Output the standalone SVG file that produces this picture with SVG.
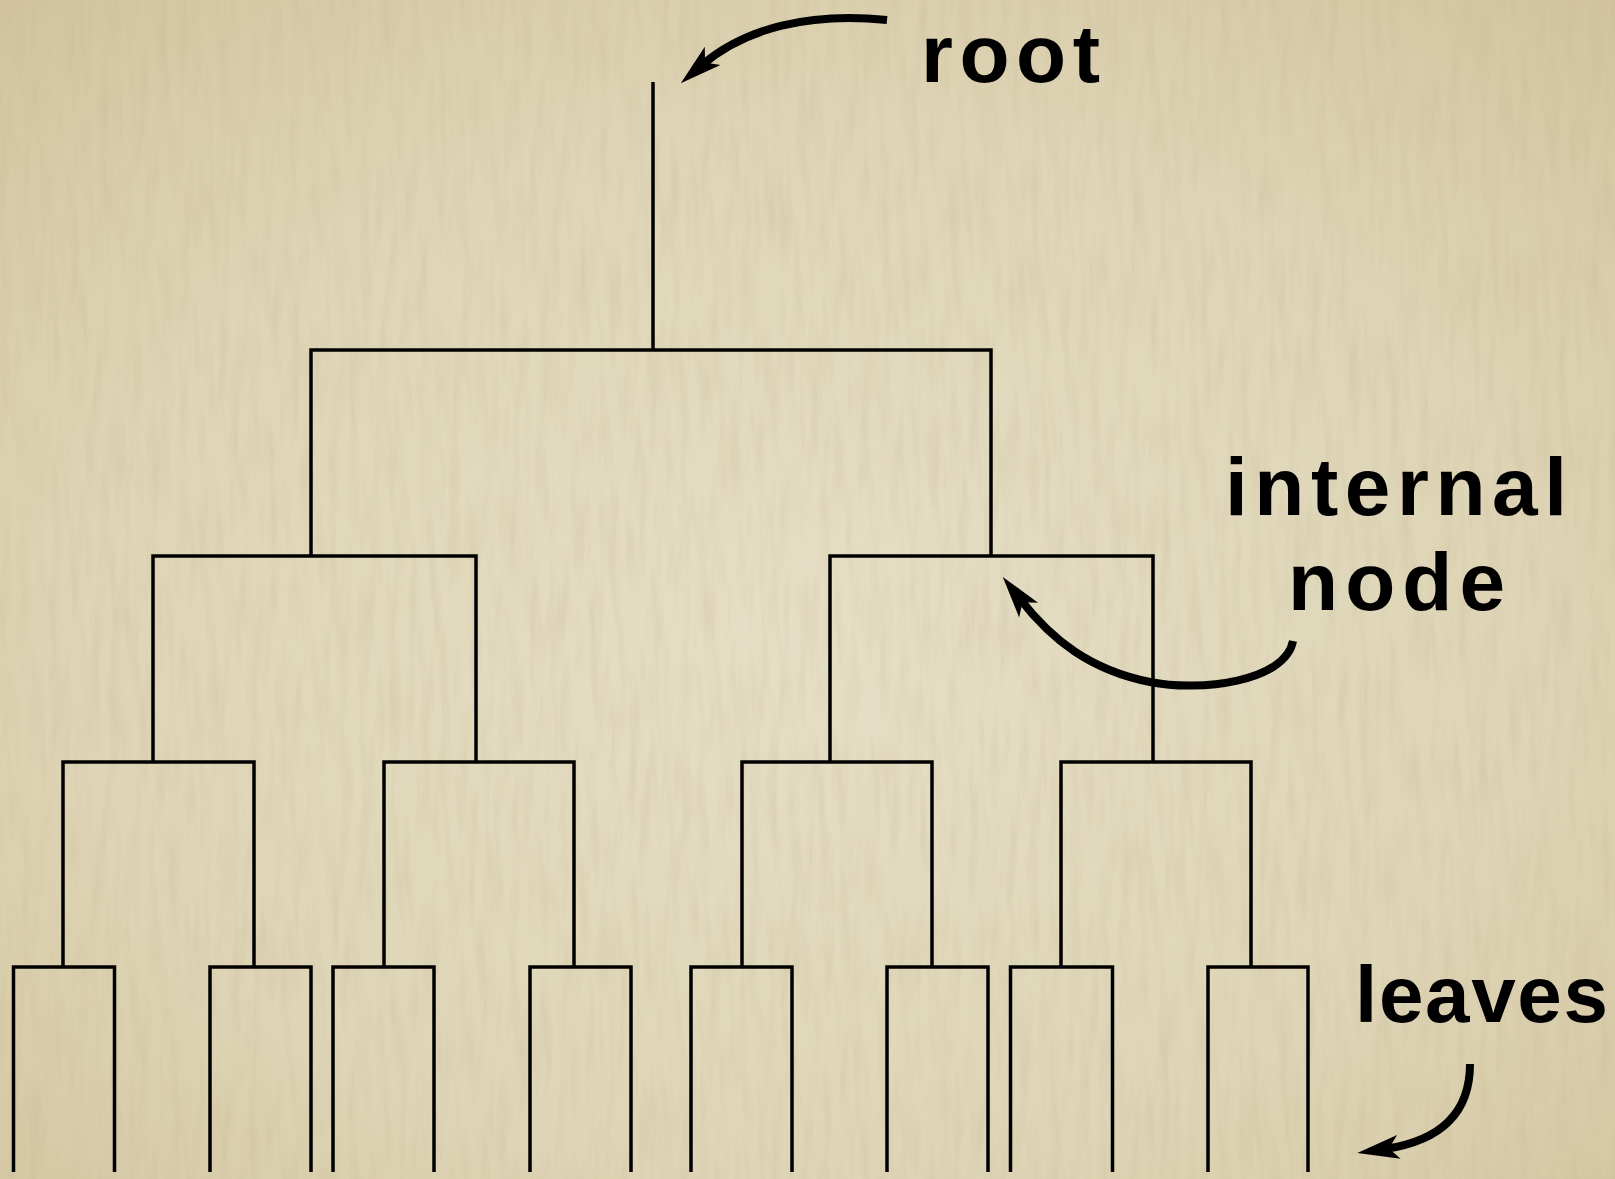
<svg xmlns="http://www.w3.org/2000/svg" width="1615" height="1179" viewBox="0 0 1615 1179">
<style>
.t{fill:none;stroke:#000;stroke-width:3.5;stroke-linejoin:miter;stroke-linecap:butt}
.a{fill:none;stroke:#000;stroke-width:8;stroke-linecap:butt;marker-end:url(#head)}
.lbl{font-family:"Liberation Sans","DejaVu Sans",sans-serif;font-weight:bold;font-size:82px;fill:#000}
</style>
<defs>
<radialGradient id="bg" cx="50%" cy="55%" r="75%">
<stop offset="0" stop-color="#e6dfc6"/>
<stop offset="0.6" stop-color="#ded5b6"/>
<stop offset="1" stop-color="#d2c39e"/>
</radialGradient>
<filter id="grain" x="0" y="0" width="100%" height="100%">
<feTurbulence type="fractalNoise" baseFrequency="0.1 0.012" numOctaves="3" seed="7"/>
<feColorMatrix type="matrix" values="0 0 0 0 0.55  0 0 0 0 0.45  0 0 0 0 0.28  1.1 0 0 0 -0.45"/>
</filter>
<marker id="head" markerUnits="userSpaceOnUse" markerWidth="48" markerHeight="32" refX="16" refY="16" orient="auto" overflow="visible">
<path d="M44,16 L2,4 L12,16 L2,28 Z" fill="#000"/>
</marker>
</defs>
<rect width="1615" height="1179" fill="url(#bg)"/>
<rect width="1615" height="1179" filter="url(#grain)" opacity="0.5"/>

<g id="connectors">
<path class="t" d="M653,82 V350"/>
</g>

<g id="node-root"><path class="t" d="M311,556 V350 H991 V556"/></g>
<g id="node-L"><path class="t" d="M153,762 V556 H476 V762"/></g>
<g id="node-R"><path class="t" d="M830,762 V556 H1153 V762"/></g>
<g id="node-LL"><path class="t" d="M63,967 V762 H254 V967"/></g>
<g id="node-LR"><path class="t" d="M384,967 V762 H574 V967"/></g>
<g id="node-RL"><path class="t" d="M742,967 V762 H932 V967"/></g>
<g id="node-RR"><path class="t" d="M1061,967 V762 H1251 V967"/></g>
<g id="node-LLL"><path class="t" d="M13.5,1172 V967 H114.5 V1172"/></g>
<g id="node-LLR"><path class="t" d="M210,1172 V967 H311 V1172"/></g>
<g id="node-LRL"><path class="t" d="M333,1172 V967 H434 V1172"/></g>
<g id="node-LRR"><path class="t" d="M530,1172 V967 H631 V1172"/></g>
<g id="node-RLL"><path class="t" d="M691,1172 V967 H792 V1172"/></g>
<g id="node-RLR"><path class="t" d="M887,1172 V967 H988 V1172"/></g>
<g id="node-RRL"><path class="t" d="M1010.5,1172 V967 H1112.5 V1172"/></g>
<g id="node-RRR"><path class="t" d="M1208,1172 V967 H1308 V1172"/></g>

<g id="label-root">
<text class="lbl" x="921" y="82" textLength="179" lengthAdjust="spacing">root</text>
<path class="a" d="M887,20 C810,12 745,28 702,65"/>
</g>
<g id="label-internal">
<text class="lbl" x="1225" y="515" textLength="342" lengthAdjust="spacing">internal</text>
<text class="lbl" x="1288" y="610" textLength="217" lengthAdjust="spacing">node</text>
<path class="a" d="M1293,641 C1285,682 1200,692 1150,682 C1090,670 1052,640 1020,599"/>
</g>
<g id="label-leaves">
<text class="lbl" x="1355" y="1022" textLength="253" lengthAdjust="spacing" style="font-size:80px">leaves</text>
<path class="a" d="M1470,1064 C1470,1120 1432,1142 1385,1149"/>
</g>
</svg>
